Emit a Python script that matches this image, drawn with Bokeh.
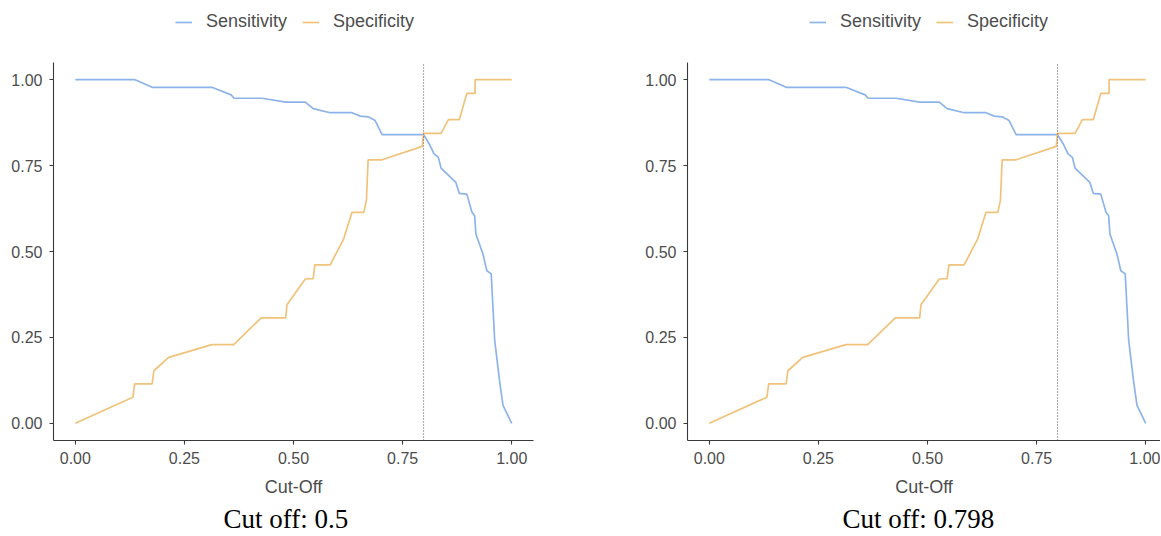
from bokeh.plotting import figure
from bokeh.layouts import row
from bokeh.models import Legend, LegendItem, FixedTicker, PrintfTickFormatter, Range1d, Title
from bokeh.embed import file_html
from bokeh.resources import INLINE

# ---- data ----
sens_x = [0.0, 0.137, 0.176, 0.313, 0.357, 0.364, 0.428, 0.482, 0.527, 0.545, 0.584, 0.634,
          0.653, 0.671, 0.687, 0.703, 0.798, 0.811, 0.822, 0.832, 0.838, 0.872, 0.880, 0.897,
          0.909, 0.915, 0.918, 0.934, 0.943, 0.953, 0.957, 0.961, 0.968, 0.972, 0.980, 1.0]
sens_y = [1.0, 1.0, 0.978, 0.978, 0.956, 0.946, 0.946, 0.935, 0.935, 0.916, 0.904, 0.904,
          0.894, 0.892, 0.881, 0.840, 0.840, 0.813, 0.784, 0.774, 0.743, 0.701, 0.669, 0.667,
          0.614, 0.604, 0.551, 0.493, 0.444, 0.435, 0.338, 0.241, 0.168, 0.124, 0.052, 0.0]
spec_x = [0.0, 0.132, 0.136, 0.176, 0.180, 0.214, 0.313, 0.363, 0.426, 0.482, 0.485, 0.527,
          0.545, 0.549, 0.584, 0.615, 0.634, 0.661, 0.667, 0.671, 0.703, 0.795, 0.798, 0.838,
          0.855, 0.880, 0.897, 0.916, 0.916, 1.0]
spec_y = [0.0, 0.076, 0.115, 0.115, 0.153, 0.192, 0.229, 0.229, 0.307, 0.307, 0.345, 0.420,
          0.421, 0.461, 0.461, 0.537, 0.614, 0.614, 0.648, 0.767, 0.767, 0.806, 0.844, 0.844,
          0.884, 0.884, 0.960, 0.960, 1.0, 1.0]
cutoff_lines = [0.798, 0.798]
captions = ["Cut off: 0.5", "Cut off: 0.798"]
ticks = [0.0, 0.25, 0.5, 0.75, 1.0]
series_names = ["Sensitivity", "Specificity"]
axis_limits = [-0.05, 1.05]

BLUE = "#8DB4EA"
ORANGE = "#F0C27A"
AXIS = "#3A3A3A"
TXT = "#4D4D4D"
FONT = "Liberation Sans"

PX_PER_UNIT_X = 436.4
PX_PER_UNIT_Y = 343.6
FRAME_BOTTOM = 440   # page pixel of y = -0.05
HEIGHT = 535


def make_panel(idx, width, bl, br, frame_w, caption_offset):
    lo, hi = axis_limits
    x_end = lo + frame_w / PX_PER_UNIT_X
    y_end = lo + FRAME_BOTTOM / PX_PER_UNIT_Y   # frame reaches the canvas top
    p = figure(width=width, height=HEIGHT, output_backend="svg", toolbar_location=None,
               x_range=Range1d(lo, x_end), y_range=Range1d(lo, y_end),
               min_border_left=bl, min_border_right=br, min_border_top=0,
               min_border_bottom=HEIGHT - FRAME_BOTTOM)
    p.outline_line_color = None
    p.grid.visible = False
    p.background_fill_color = "white"
    r1 = p.line(sens_x, sens_y, line_color=BLUE, line_width=1.7)
    r2 = p.line(spec_x, spec_y, line_color=ORANGE, line_width=1.7)
    c = cutoff_lines[idx]
    p.segment(x0=[c], y0=[lo], x1=[c], y1=[hi], line_color="#555555", line_width=1,
              line_dash="1 2")
    for ax in (p.xaxis[0], p.yaxis[0]):
        ax.ticker = FixedTicker(ticks=ticks)
        ax.formatter = PrintfTickFormatter(format="%.2f")
        ax.axis_line_color = AXIS
        ax.axis_line_width = 1.1
        ax.major_tick_line_color = AXIS
        ax.major_tick_line_width = 1.1
        ax.major_tick_out = 4
        ax.major_tick_in = 0
        ax.minor_tick_line_color = None
        ax.major_label_text_font = FONT
        ax.major_label_text_font_size = "16px"
        ax.major_label_text_color = TXT
    p.yaxis.bounds = (lo, hi)
    p.yaxis.major_label_standoff = 7
    p.xaxis.major_label_standoff = 7
    p.xaxis.axis_label = "Cut-Off"
    p.xaxis.axis_label_text_font = FONT
    p.xaxis.axis_label_text_font_size = "18px"
    p.xaxis.axis_label_text_font_style = "normal"
    p.xaxis.axis_label_text_color = TXT
    p.xaxis.axis_label_standoff = 10

    legend = Legend(items=[LegendItem(label=series_names[0], renderers=[r1]),
                           LegendItem(label=series_names[1], renderers=[r2])],
                    orientation="horizontal", location=(122, FRAME_BOTTOM - 32),
                    glyph_width=17, glyph_height=20, label_height=20, label_standoff=14,
                    spacing=15, padding=0, margin=0,
                    label_text_font=FONT, label_text_font_size="18px", label_text_color=TXT,
                    border_line_color=None, background_fill_alpha=0)
    p.add_layout(legend, "center")

    p.add_layout(Title(text=captions[idx], align="left", offset=caption_offset, standoff=4,
                       text_font="Liberation Serif", text_font_size="27px",
                       text_font_style="normal", text_color="black"), "below")
    return p


p1 = make_panel(0, 620, 53, 87, 480, 170)
p2 = make_panel(1, 540, 67, 0, 473, 155)
layout = row(p1, p2)

open("out.html", "w").write(file_html(layout, INLINE))
